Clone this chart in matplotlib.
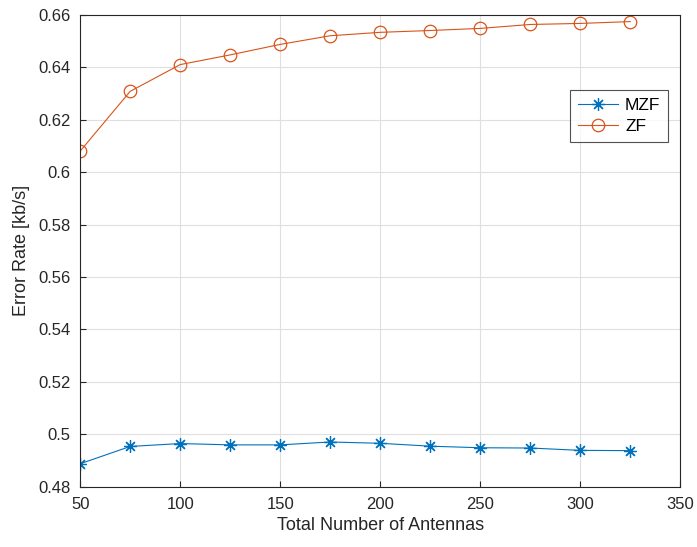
import matplotlib
matplotlib.use("Agg")
import matplotlib.pyplot as plt

plt.rcParams['font.family'] = ['Liberation Sans', 'DejaVu Sans']

antennas = [50, 75, 100, 125, 150, 175, 200, 225, 250, 275, 300, 325]
mzf = [0.4888, 0.4954, 0.4965, 0.4960, 0.4960, 0.4971, 0.4966, 0.4955, 0.4949, 0.4948, 0.4939, 0.4938]
zf = [0.6080, 0.6308, 0.6410, 0.6447, 0.6487, 0.6520, 0.6533, 0.6540, 0.6548, 0.6563, 0.6567, 0.6574]

fig = plt.figure(figsize=(6.97, 5.47), dpi=100)
ax = fig.add_axes([0.115, 0.110, 0.861, 0.863])

ax.plot(antennas, mzf, color='#0072BD', marker=(8, 2, 0), markersize=9, linewidth=0.8,
        markeredgewidth=0.9, label='MZF')
ax.plot(antennas, zf, color='#D95319', marker='o', markersize=9, linewidth=0.8,
        markeredgewidth=0.9, markerfacecolor='none', label='ZF')

ax.set_xlim(50, 350)
ax.set_ylim(0.48, 0.66)
ax.set_xticks([50, 100, 150, 200, 250, 300, 350])
yt = [0.48, 0.50, 0.52, 0.54, 0.56, 0.58, 0.60, 0.62, 0.64, 0.66]
ax.set_yticks(yt)
ax.set_yticklabels(['0.48', '0.5', '0.52', '0.54', '0.56', '0.58', '0.6', '0.62', '0.64', '0.66'])
ax.grid(True, color='#DFDFDF', linewidth=0.8)
ax.set_axisbelow(True)
for s in ax.spines.values():
    s.set_color('#262626')
    s.set_linewidth(0.8)
ax.tick_params(direction='in', labelsize=12, colors='#262626', length=4, pad=7)
ax.set_xlabel('Total Number of Antennas', fontsize=13, color='#262626', labelpad=4)
ax.set_ylabel('Error Rate [kb/s]', fontsize=13, color='#262626', labelpad=6)

leg = ax.legend(loc='upper right', bbox_to_anchor=(0.98, 0.841), borderaxespad=0,
                fontsize=12.5, frameon=True, fancybox=False, edgecolor='#262626',
                handlelength=2.3, borderpad=0.45, labelspacing=0.35, handletextpad=0.4)
leg.get_frame().set_linewidth(0.8)

fig.savefig('out.png', dpi=100)
